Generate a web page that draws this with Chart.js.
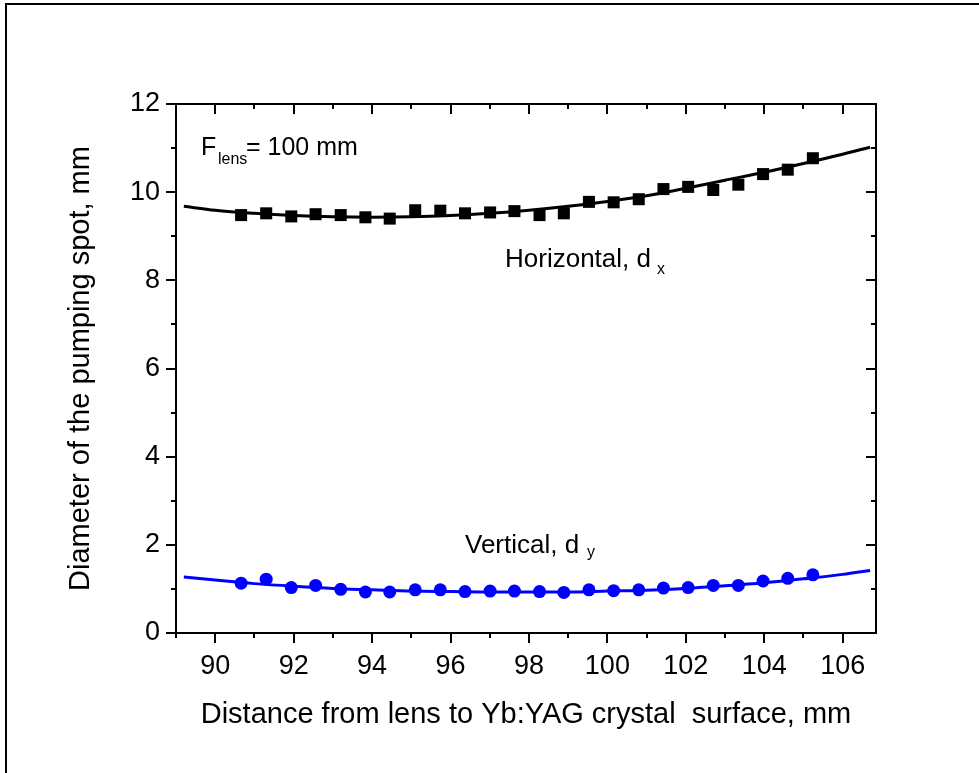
<!DOCTYPE html>
<html>
<head>
<meta charset="utf-8">
<script src="https://cdn.jsdelivr.net/npm/chart.js@4.4.1/dist/chart.umd.min.js"></script>
<style>
  html, body { margin: 0; padding: 0; background: #fff; }
  #wrap { position: relative; width: 979px; height: 773px; }
  canvas { display: block; }
</style>
</head>
<body>
<div id="wrap"><canvas id="c" width="979" height="773"></canvas></div>
<script>
// ---- data ----
const distH = [90.66, 91.30, 91.94, 92.56, 93.20, 93.83, 94.45, 95.10, 95.74, 96.37, 97.01, 97.63,
               98.27, 98.89, 99.53, 100.16, 100.80, 101.43, 102.06, 102.70, 103.34, 103.97, 104.60, 105.24];
const horizontal = [9.48, 9.52, 9.45, 9.50, 9.48, 9.43, 9.40, 9.59, 9.58, 9.52, 9.54, 9.57,
                    9.48, 9.52, 9.78, 9.77, 9.84, 10.07, 10.12, 10.05, 10.17, 10.41, 10.51, 10.77];
const vertical = [1.13, 1.22, 1.03, 1.08, 0.99, 0.93, 0.93, 0.98, 0.98, 0.94, 0.95, 0.95,
                  0.94, 0.92, 0.98, 0.96, 0.98, 1.02, 1.03, 1.08, 1.08, 1.18, 1.24, 1.32];
// fitted curves (read at points along the drawn lines)
const fitDist = [89.2, 90, 91, 92, 93, 94, 95, 96, 97, 98, 99, 100, 101, 102, 103, 104, 105, 106, 106.7];
const fitHorizontal = [9.68, 9.59, 9.52, 9.47, 9.44, 9.43, 9.44, 9.47, 9.52, 9.59, 9.68, 9.79, 9.92, 10.09, 10.27, 10.45, 10.65, 10.86, 11.02];
const fitVertical = [1.27, 1.20, 1.12, 1.06, 1.01, 0.98, 0.95, 0.94, 0.93, 0.93, 0.93, 0.95, 0.97, 1.01, 1.07, 1.14, 1.23, 1.33, 1.42];
// tick labels
const xMajorTicks = [90, 92, 94, 96, 98, 100, 102, 104, 106];
const xMinorTicks = [89, 91, 93, 95, 97, 99, 101, 103, 105];
const yMajorTicks = [0, 2, 4, 6, 8, 10, 12];
const yMinorTicks = [1, 3, 5, 7, 9, 11];

const FONT = "'Liberation Sans', Arial, Helvetica, sans-serif";
const pts = (xs, ys) => xs.map((v, i) => ({ x: v, y: ys[i] }));

const framePlugin = {
  id: 'framePlugin',
  afterDraw(chart) {
    const { ctx, chartArea: a, scales: { x, y } } = chart;
    ctx.save();
    ctx.strokeStyle = '#000';
    ctx.lineWidth = 2;
    ctx.strokeRect(a.left, a.top, a.right - a.left, a.bottom - a.top);
    ctx.beginPath();
    const tick = (v, major, axis) => {
      const len = major ? 10 : 5;
      if (axis === 'x') {
        const p = Math.round(x.getPixelForValue(v));
        ctx.moveTo(p, a.bottom); ctx.lineTo(p, a.bottom + len);
        ctx.moveTo(p, a.top); ctx.lineTo(p, a.top + len);
      } else {
        const p = Math.round(y.getPixelForValue(v));
        ctx.moveTo(a.left, p); ctx.lineTo(a.left - len, p);
        ctx.moveTo(a.right, p); ctx.lineTo(a.right - len, p);
      }
    };
    xMajorTicks.forEach(v => tick(v, true, 'x'));
    xMinorTicks.forEach(v => tick(v, false, 'x'));
    yMajorTicks.forEach(v => tick(v, true, 'y'));
    yMinorTicks.forEach(v => tick(v, false, 'y'));
    ctx.stroke();

    // annotations
    ctx.fillStyle = '#000';
    ctx.textBaseline = 'alphabetic';
    ctx.textAlign = 'left';
    ctx.font = '25px ' + FONT;
    ctx.fillText('F', 201, 155);
    ctx.fillText('= 100 mm', 246, 155);
    ctx.font = '26px ' + FONT;
    ctx.fillText('Horizontal, d', 505, 267);
    ctx.fillText('Vertical, d', 465, 553);
    ctx.font = '16px ' + FONT;
    ctx.fillText('lens', 218, 164);
    ctx.fillText('x', 657, 274);
    ctx.fillText('y', 587, 557);

    // outer frame of the figure
    ctx.lineWidth = 2;
    ctx.beginPath();
    ctx.moveTo(6, 773); ctx.lineTo(6, 4); ctx.lineTo(979, 4);
    ctx.stroke();
    ctx.restore();
  }
};

new Chart(document.getElementById('c'), {
  type: 'scatter',
  data: {
    datasets: [
      { label: 'Horizontal fit', data: pts(fitDist, fitHorizontal), showLine: true, borderColor: '#000', borderWidth: 3, pointRadius: 0, tension: 0.4, cubicInterpolationMode: 'monotone' },
      { label: 'Vertical fit', data: pts(fitDist, fitVertical), showLine: true, borderColor: '#0000ff', borderWidth: 3, pointRadius: 0, tension: 0.4, cubicInterpolationMode: 'monotone' },
      { label: 'Horizontal, dx', data: pts(distH, horizontal), pointStyle: 'rect', pointRadius: 8.5, backgroundColor: '#000', borderColor: '#000', borderWidth: 0 },
      { label: 'Vertical, dy', data: pts(distH, vertical), pointStyle: 'circle', pointRadius: 6.5, backgroundColor: '#0000ff', borderColor: '#0000ff', borderWidth: 0 }
    ]
  },
  options: {
    responsive: false,
    animation: false,
    devicePixelRatio: 1,
    layout: { padding: { left: 0, right: 103, top: 104, bottom: 0 } },
    plugins: { legend: { display: false }, tooltip: { enabled: false } },
    scales: {
      x: {
        type: 'linear', position: 'bottom', min: 89, max: 106.85,
        afterBuildTicks: s => { s.ticks = xMajorTicks.map(v => ({ value: v })); },
        afterFit: s => { s.height = 140; },
        grid: { display: true, drawOnChartArea: false, drawTicks: true, tickLength: 10, tickColor: 'rgba(0,0,0,0)' },
        border: { display: false },
        ticks: { font: { family: FONT, size: 27 }, color: '#000', padding: 7, maxRotation: 0, autoSkip: false },
        title: { display: true, text: 'Distance from lens to Yb:YAG crystal  surface, mm', color: '#000', font: { family: FONT, size: 29 }, padding: { top: 0, bottom: 41 } }
      },
      y: {
        type: 'linear', position: 'left', min: 0, max: 12,
        afterBuildTicks: s => { s.ticks = yMajorTicks.map(v => ({ value: v })); },
        afterFit: s => { s.width = 176; },
        grid: { display: true, drawOnChartArea: false, drawTicks: true, tickLength: 10, tickColor: 'rgba(0,0,0,0)' },
        border: { display: false },
        ticks: { font: { family: FONT, size: 27 }, color: '#000', padding: 6, autoSkip: false },
        title: { display: true, text: 'Diameter of the pumping spot, mm', color: '#000', font: { family: FONT, size: 29 }, padding: { top: 64, bottom: 0 } }
      }
    }
  },
  plugins: [framePlugin]
});
</script>
</body>
</html>
